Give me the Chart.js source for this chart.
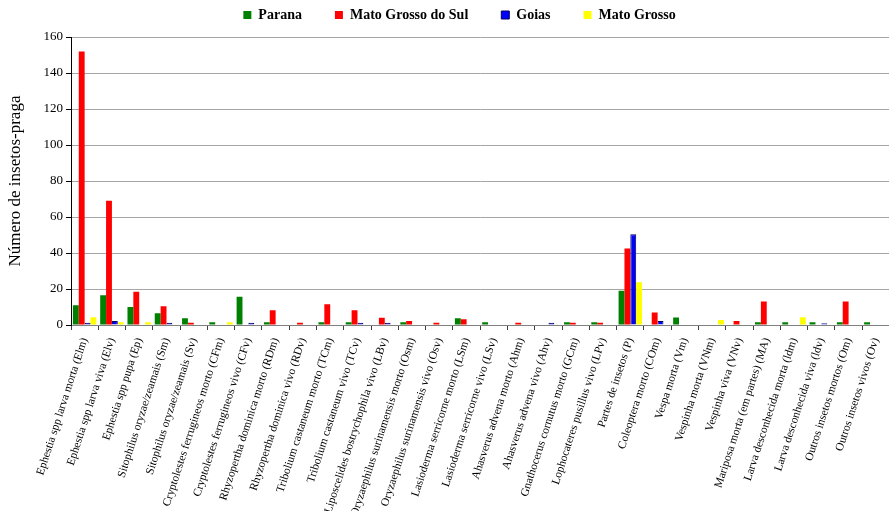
<!DOCTYPE html>
<html>
<head>
<meta charset="utf-8">
<script src="https://cdn.jsdelivr.net/npm/chart.js@4"></script>
<style>
html,body{margin:0;padding:0;background:#fff;overflow:hidden;}
#wrap{position:relative;width:889px;height:511px;overflow:hidden;}
</style>
</head>
<body>
<div id="wrap"><canvas id="c" width="895" height="511"></canvas></div>
<script>
const categories = [
  "Ephestia spp larva morta (Elm)",
  "Ephestia spp larva viva (Elv)",
  "Ephestia spp pupa (Ep)",
  "Sitophilus oryzae/zeamais (Sm)",
  "Sitophilus oryzae/zeamais (Sv)",
  "Cryptolestes ferrugineos morto (CFm)",
  "Cryptolestes ferrugineos vivo (CFv)",
  "Rhyzopertha dominica morto (RDm)",
  "Rhyzopertha dominica vivo (RDv)",
  "Tribolium castaneum morto (TCm)",
  "Tribolium castaneum vivo (TCv)",
  "Liposcelides bostrychophila vivo (LBv)",
  "Oryzaephilus surinamensis morto (Osm)",
  "Oryzaephilus surinamensis vivo (Osv)",
  "Lasioderma serricorne morto (LSm)",
  "Lasioderma serricorne vivo (LSv)",
  "Ahasverus advena morto (Ahm)",
  "Ahasverus advena vivo (Ahv)",
  "Gnathocerus cornutus morto (GCm)",
  "Lophocateres pusillus vivo (LPv)",
  "Partes de insetos (P)",
  "Coleoptera morto (COm)",
  "Vespa morta (Vm)",
  "Vespinha morta (VNm)",
  "Vespinha viva (VNv)",
  "Mariposa morta (em partes) (MA)",
  "Larva desconhecida morta (ldm)",
  "Larva desconhecida viva (ldv)",
  "Outros insetos mortos (Om)",
  "Outros insetos vivos (Ov)"
];
const seriesNames = ["Parana", "Mato Grosso do Sul", "Goias", "Mato Grosso"];
const parana =         [11, 16.5, 10, 6.5, 3.7, 1.5, 15.7, 1.5, 0, 1.5, 1.5, 0, 1.5, 0, 3.8, 1.5, 0, 0, 1.5, 1.5, 19, 0, 4.2, 0, 0, 1.5, 1.5, 1.5, 1.5, 1.5];
const matoGrossoSul =  [152, 69, 18.5, 10.4, 1.2, 0, 0, 8.2, 1.2, 11.5, 8.2, 4, 2.2, 1.2, 3.2, 0, 1.2, 0, 1.2, 1.2, 42.5, 7, 0, 0, 2.2, 13, 0, 0, 13, 0];
const goias =          [1.2, 2.2, 0, 1.2, 0, 0, 1.2, 0, 0, 0, 1.2, 1.2, 0, 0, 0, 0, 0, 1.2, 0, 0, 50.4, 2.2, 0, 0, 0, 0, 0, 1, 0, 0];
const matoGrosso =     [4.3, 1.5, 1.5, 0, 0, 1.5, 0, 0, 0, 0, 0, 0, 0, 0, 0, 0, 0, 0, 0, 0, 23.7, 0, 0, 2.8, 0, 0, 4.3, 0, 0, 0];
const yTicks = [0, 20, 40, 60, 80, 100, 120, 140, 160];
const yTitle = "Número de insetos-praga";

const SERIF = "'Liberation Serif', 'Times New Roman', serif";

const legendFix = {
  id: 'legendFix',
  beforeLayout(chart) {
    const lg = chart.legend;
    if (lg && !lg._patched) {
      const f = lg.fit.bind(lg);
      lg.fit = function () { f(); this.height = 35; };
      lg._patched = true;
    }
  },
  afterLayout(chart) {
    const lg = chart.legend;
    if (lg) { lg.left += 12; lg.right += 12; lg.top -= 27; }
  }
};

new Chart(document.getElementById('c'), {
  type: 'bar',
  data: {
    labels: categories,
    datasets: [
      { label: seriesNames[0], data: parana, backgroundColor: '#008000', borderWidth: 0 },
      { label: seriesNames[1], data: matoGrossoSul, backgroundColor: '#FF0000', borderWidth: 0 },
      { label: seriesNames[2], data: goias, backgroundColor: '#0000FF', borderColor: '#000060', borderWidth: 1 },
      { label: seriesNames[3], data: matoGrosso, backgroundColor: '#FFFF00', borderWidth: 0 }
    ]
  },
  options: {
    responsive: false,
    animation: false,
    devicePixelRatio: 1,
    datasets: { bar: { categoryPercentage: 0.86, barPercentage: 1.0 } },
    layout: { padding: { left: 0, right: 0, top: 2, bottom: 0 } },
    plugins: {
      tooltip: { enabled: false },
      legend: {
        display: true,
        position: 'top',
        labels: {
          boxWidth: 8,
          boxHeight: 8,
          padding: 33,
          color: '#000',
          font: { family: SERIF, size: 14, weight: 'bold' }
        }
      }
    },
    scales: {
      x: {
        afterFit: (s) => { s.height = 186; },
        grid: { display: true, drawOnChartArea: false, drawTicks: true, tickLength: 5, color: '#404040', offset: true },
        border: { display: true, color: '#808080', width: 1 },
        ticks: {
          autoSkip: false,
          minRotation: 72,
          maxRotation: 72,
          padding: 6,
          color: '#000',
          font: { family: SERIF, size: 11.5 }
        }
      },
      y: {
        min: 0,
        max: 160,
        afterFit: (s) => { s.width = 71; },
        afterBuildTicks: (s) => { s.ticks = yTicks.map(v => ({ value: v })); },
        grid: { color: '#a6a6a6', lineWidth: 1, drawTicks: true, tickLength: 5, tickColor: '#000' },
        border: { display: true, color: '#000', width: 1 },
        ticks: {
          padding: 3,
          color: '#000',
          font: { family: SERIF, size: 13 }
        },
        title: {
          display: true,
          text: yTitle,
          color: '#000',
          padding: { top: 5, bottom: 0 },
          font: { family: SERIF, size: 17 }
        }
      }
    }
  },
  plugins: [legendFix]
});
</script>
</body>
</html>
